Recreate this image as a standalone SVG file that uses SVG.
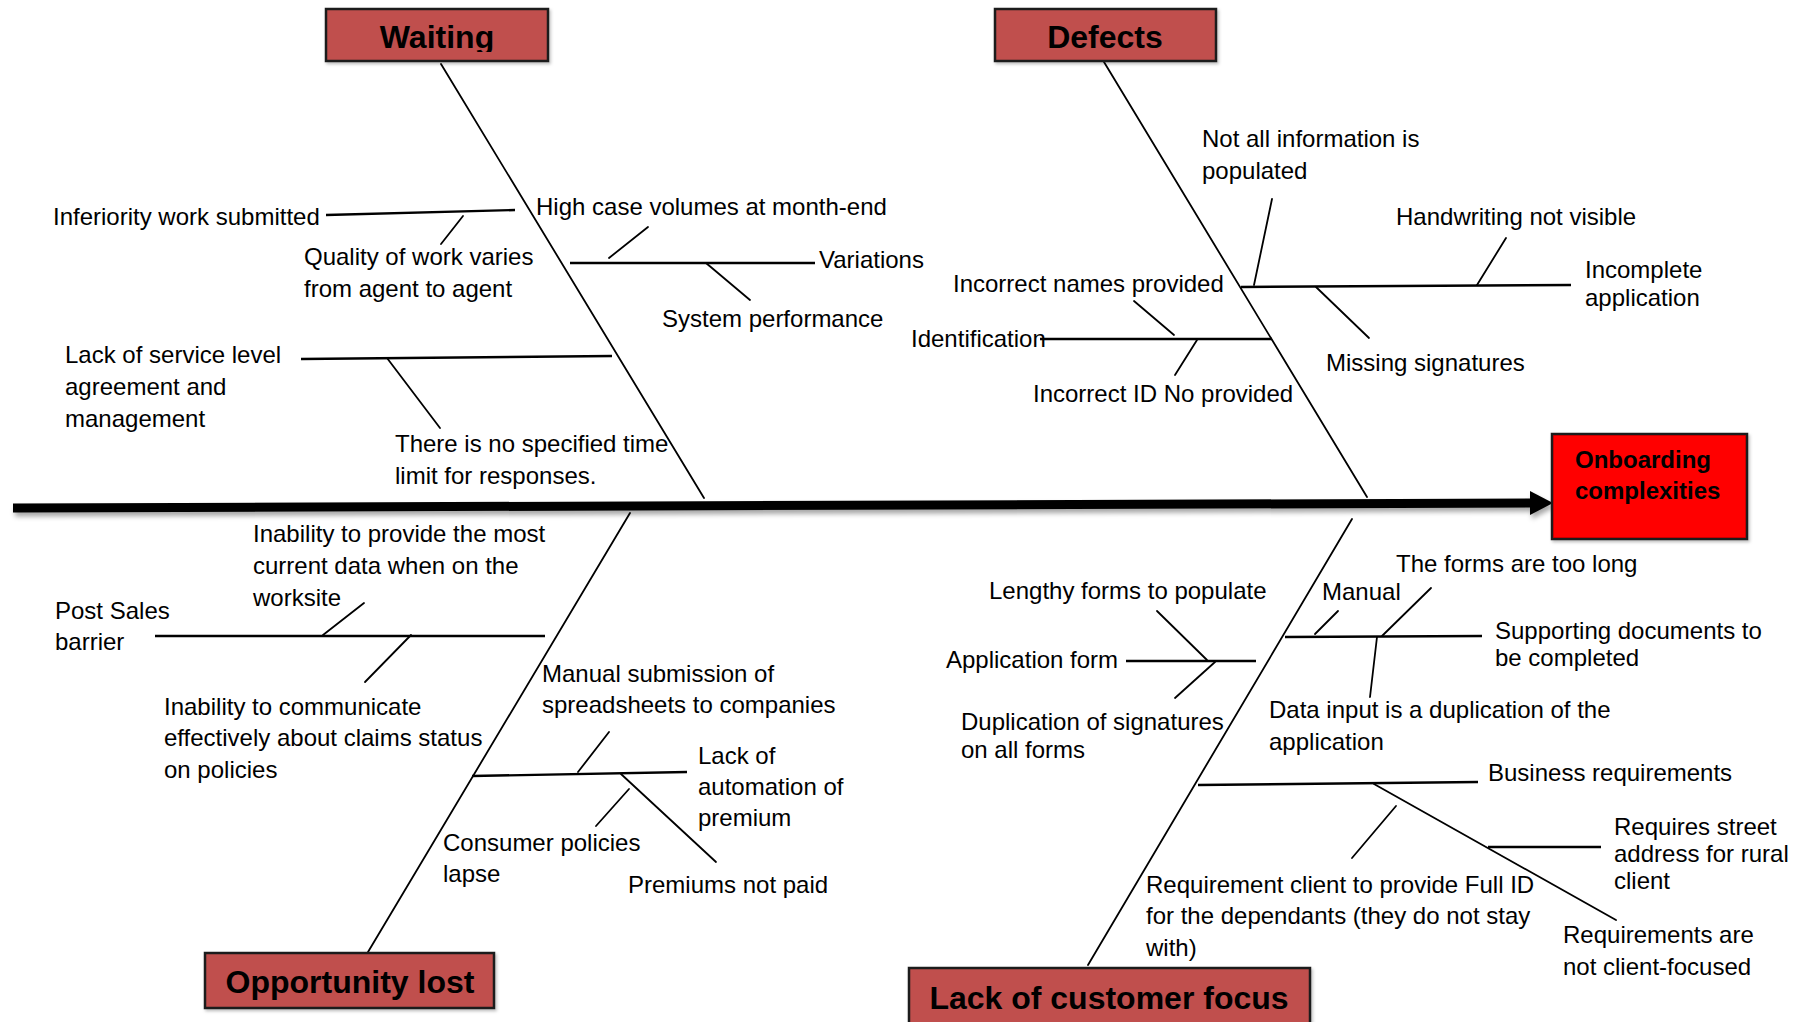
<svg xmlns="http://www.w3.org/2000/svg" width="1807" height="1022" viewBox="0 0 1807 1022">
  <defs>
    <style>
      .lbl { font-family: "Liberation Sans", Arial, sans-serif; font-size: 24px; fill: #000; }
      .ttl { font-family: "Liberation Sans", Arial, sans-serif; font-size: 32px; font-weight: bold; fill: #000; text-anchor: middle; }
      .head { font-family: "Liberation Sans", Arial, sans-serif; font-size: 24px; font-weight: bold; fill: #000; }
      .cat { fill: #C0504D; stroke: #1a1a1a; stroke-width: 2.5; }
      .spine { stroke: #000; stroke-width: 1.8; fill: none; stroke-linecap: round; }
      .bone { stroke: #000; stroke-width: 2.4; fill: none; }
      .tick { stroke: #000; stroke-width: 1.8; fill: none; stroke-linecap: round; }
    </style>
    <filter id="shade" x="-5%" y="-50%" width="110%" height="300%">
      <feDropShadow dx="2" dy="4" stdDeviation="2.5" flood-color="#000" flood-opacity="0.35"/>
    </filter>
    <filter id="boxShade" x="-10%" y="-10%" width="120%" height="130%">
      <feDropShadow dx="1.5" dy="2" stdDeviation="1.5" flood-color="#000" flood-opacity="0.25"/>
    </filter>
    <clipPath id="waitClip">
      <rect x="326" y="9" width="222" height="43"/>
    </clipPath>
  </defs>

  <rect x="0" y="0" width="1807" height="1022" fill="#fff"/>

  <!-- connectors: main arrow, category spines, branches and sub-causes -->
  <g id="connectors">
    <g id="main-arrow" filter="url(#shade)">
      <line x1="13" y1="508" x2="1533" y2="503" stroke="#000" stroke-width="9"/>
      <polygon points="1530,491 1553,503 1530,515" fill="#000"/>
    </g>

    <!-- Waiting -->
    <line class="spine" x1="441" y1="64" x2="704" y2="498"/>
    <line class="bone" x1="326" y1="215" x2="515" y2="210"/>
    <line class="tick" x1="463" y1="216" x2="441" y2="244"/>
    <line class="bone" x1="570" y1="263" x2="815" y2="263"/>
    <line class="tick" x1="648" y1="227" x2="609" y2="258"/>
    <line class="tick" x1="706" y1="263" x2="750" y2="300"/>
    <line class="bone" x1="301" y1="359" x2="612" y2="356"/>
    <line class="tick" x1="387" y1="358" x2="440" y2="428"/>

    <!-- Defects -->
    <line class="spine" x1="1104" y1="62" x2="1367" y2="497"/>
    <line class="bone" x1="1241" y1="287" x2="1571" y2="285"/>
    <line class="tick" x1="1272" y1="199" x2="1254" y2="285"/>
    <line class="tick" x1="1506" y1="238" x2="1477" y2="285"/>
    <line class="tick" x1="1316" y1="287" x2="1369" y2="338"/>
    <line class="bone" x1="1040" y1="339" x2="1272" y2="339"/>
    <line class="tick" x1="1134" y1="301" x2="1174" y2="335"/>
    <line class="tick" x1="1197" y1="340" x2="1175" y2="375"/>

    <!-- Opportunity lost -->
    <line class="spine" x1="630" y1="513" x2="368" y2="952"/>
    <line class="bone" x1="155" y1="636" x2="545" y2="636"/>
    <line class="tick" x1="364" y1="603" x2="323" y2="635"/>
    <line class="tick" x1="411" y1="635" x2="365" y2="682"/>
    <line class="bone" x1="472" y1="776" x2="687" y2="772"/>
    <line class="tick" x1="609" y1="732" x2="578" y2="772"/>
    <line class="tick" x1="621" y1="774" x2="716" y2="862"/>
    <line class="tick" x1="629" y1="789" x2="596" y2="826"/>

    <!-- Lack of customer focus -->
    <line class="spine" x1="1352" y1="519" x2="1088" y2="965"/>
    <line class="bone" x1="1285" y1="637" x2="1482" y2="636"/>
    <line class="tick" x1="1338" y1="611" x2="1315" y2="634"/>
    <line class="tick" x1="1431" y1="588" x2="1382" y2="636"/>
    <line class="tick" x1="1377" y1="637" x2="1370" y2="697"/>
    <line class="bone" x1="1126" y1="661" x2="1256" y2="661"/>
    <line class="tick" x1="1157" y1="611" x2="1207" y2="660"/>
    <line class="tick" x1="1215" y1="662" x2="1175" y2="698"/>
    <line class="bone" x1="1198" y1="785" x2="1478" y2="782"/>
    <line class="tick" x1="1374" y1="784" x2="1616" y2="920"/>
    <line class="tick" x1="1396" y1="806" x2="1352" y2="858"/>
    <line class="bone" x1="1488" y1="847" x2="1601" y2="847"/>
  </g>

  <!-- category boxes -->
  <g id="cat-waiting">
    <rect class="cat" x="326" y="9" width="222" height="52" filter="url(#boxShade)"/>
    <text class="ttl" x="437" y="48" clip-path="url(#waitClip)">Waiting</text>
  </g>
  <g id="cat-defects">
    <rect class="cat" x="995" y="9" width="221" height="52" filter="url(#boxShade)"/>
    <text class="ttl" x="1105" y="48">Defects</text>
  </g>
  <g id="cat-opportunity">
    <rect class="cat" x="205" y="953" width="289" height="55" filter="url(#boxShade)"/>
    <text class="ttl" x="350" y="993">Opportunity lost</text>
  </g>
  <g id="cat-customer">
    <rect class="cat" x="909" y="968" width="401" height="70" filter="url(#boxShade)"/>
    <text class="ttl" x="1109" y="1009">Lack of customer focus</text>
  </g>
  <g id="effect">
    <rect x="1552" y="434" width="195" height="105" fill="#FF0000" stroke="#1a1a1a" stroke-width="2.5" filter="url(#boxShade)"/>
    <text class="head" x="1575" y="468">Onboarding</text>
    <text class="head" x="1575" y="499">complexities</text>
  </g>

  <!-- Waiting causes -->
  <g id="w-inferiority"><text class="lbl" x="53" y="225">Inferiority work submitted</text></g>
  <g id="w-quality"><text class="lbl" x="304" y="265">Quality of work varies<tspan x="304" y="297">from agent to agent</tspan></text></g>
  <g id="w-volumes"><text class="lbl" x="536" y="215">High case volumes at month-end</text></g>
  <g id="w-variations"><text class="lbl" x="819" y="268">Variations</text></g>
  <g id="w-system"><text class="lbl" x="662" y="327">System performance</text></g>
  <g id="w-sla"><text class="lbl" x="65" y="363">Lack of service level<tspan x="65" y="395">agreement and</tspan><tspan x="65" y="427">management</tspan></text></g>
  <g id="w-time"><text class="lbl" x="395" y="452">There is no specified time<tspan x="395" y="484">limit for responses.</tspan></text></g>

  <!-- Defects causes -->
  <g id="d-info"><text class="lbl" x="1202" y="147">Not all information is<tspan x="1202" y="179">populated</tspan></text></g>
  <g id="d-handwriting"><text class="lbl" x="1396" y="225">Handwriting not visible</text></g>
  <g id="d-incomplete"><text class="lbl" x="1585" y="278">Incomplete<tspan x="1585" y="306">application</tspan></text></g>
  <g id="d-signatures"><text class="lbl" x="1326" y="371">Missing signatures</text></g>
  <g id="d-names"><text class="lbl" x="953" y="292">Incorrect names provided</text></g>
  <g id="d-identification"><text class="lbl" x="911" y="347">Identification</text></g>
  <g id="d-idno"><text class="lbl" x="1033" y="402">Incorrect ID No provided</text></g>

  <!-- Opportunity lost causes -->
  <g id="o-data"><text class="lbl" x="253" y="542">Inability to provide the most<tspan x="253" y="574">current data when on the</tspan><tspan x="253" y="606">worksite</tspan></text></g>
  <g id="o-postsales"><text class="lbl" x="55" y="619">Post Sales<tspan x="55" y="650">barrier</tspan></text></g>
  <g id="o-claims"><text class="lbl" x="164" y="715">Inability to communicate<tspan x="164" y="746">effectively about claims status</tspan><tspan x="164" y="778">on policies</tspan></text></g>
  <g id="o-spreadsheets"><text class="lbl" x="542" y="682">Manual submission of<tspan x="542" y="713">spreadsheets to companies</tspan></text></g>
  <g id="o-automation"><text class="lbl" x="698" y="764">Lack of<tspan x="698" y="795">automation of</tspan><tspan x="698" y="826">premium</tspan></text></g>
  <g id="o-lapse"><text class="lbl" x="443" y="851">Consumer policies<tspan x="443" y="882">lapse</tspan></text></g>
  <g id="o-premiums"><text class="lbl" x="628" y="893">Premiums not paid</text></g>

  <!-- Lack of customer focus causes -->
  <g id="c-long"><text class="lbl" x="1396" y="572">The forms are too long</text></g>
  <g id="c-manual"><text class="lbl" x="1322" y="600">Manual</text></g>
  <g id="c-supporting"><text class="lbl" x="1495" y="639">Supporting documents to<tspan x="1495" y="666">be completed</tspan></text></g>
  <g id="c-duplication-input"><text class="lbl" x="1269" y="718">Data input is a duplication of the<tspan x="1269" y="750">application</tspan></text></g>
  <g id="c-lengthy"><text class="lbl" x="989" y="599">Lengthy forms to populate</text></g>
  <g id="c-appform"><text class="lbl" x="946" y="668">Application form</text></g>
  <g id="c-dupsig"><text class="lbl" x="961" y="730">Duplication of signatures<tspan x="961" y="758">on all forms</tspan></text></g>
  <g id="c-business"><text class="lbl" x="1488" y="781">Business requirements</text></g>
  <g id="c-street"><text class="lbl" x="1614" y="835">Requires street<tspan x="1614" y="862">address for rural</tspan><tspan x="1614" y="889">client</tspan></text></g>
  <g id="c-fullid"><text class="lbl" x="1146" y="893">Requirement client to provide Full ID<tspan x="1146" y="924">for the dependants (they do not stay</tspan><tspan x="1146" y="956">with)</tspan></text></g>
  <g id="c-notfocused"><text class="lbl" x="1563" y="943">Requirements are<tspan x="1563" y="975">not client-focused</tspan></text></g>
</svg>
